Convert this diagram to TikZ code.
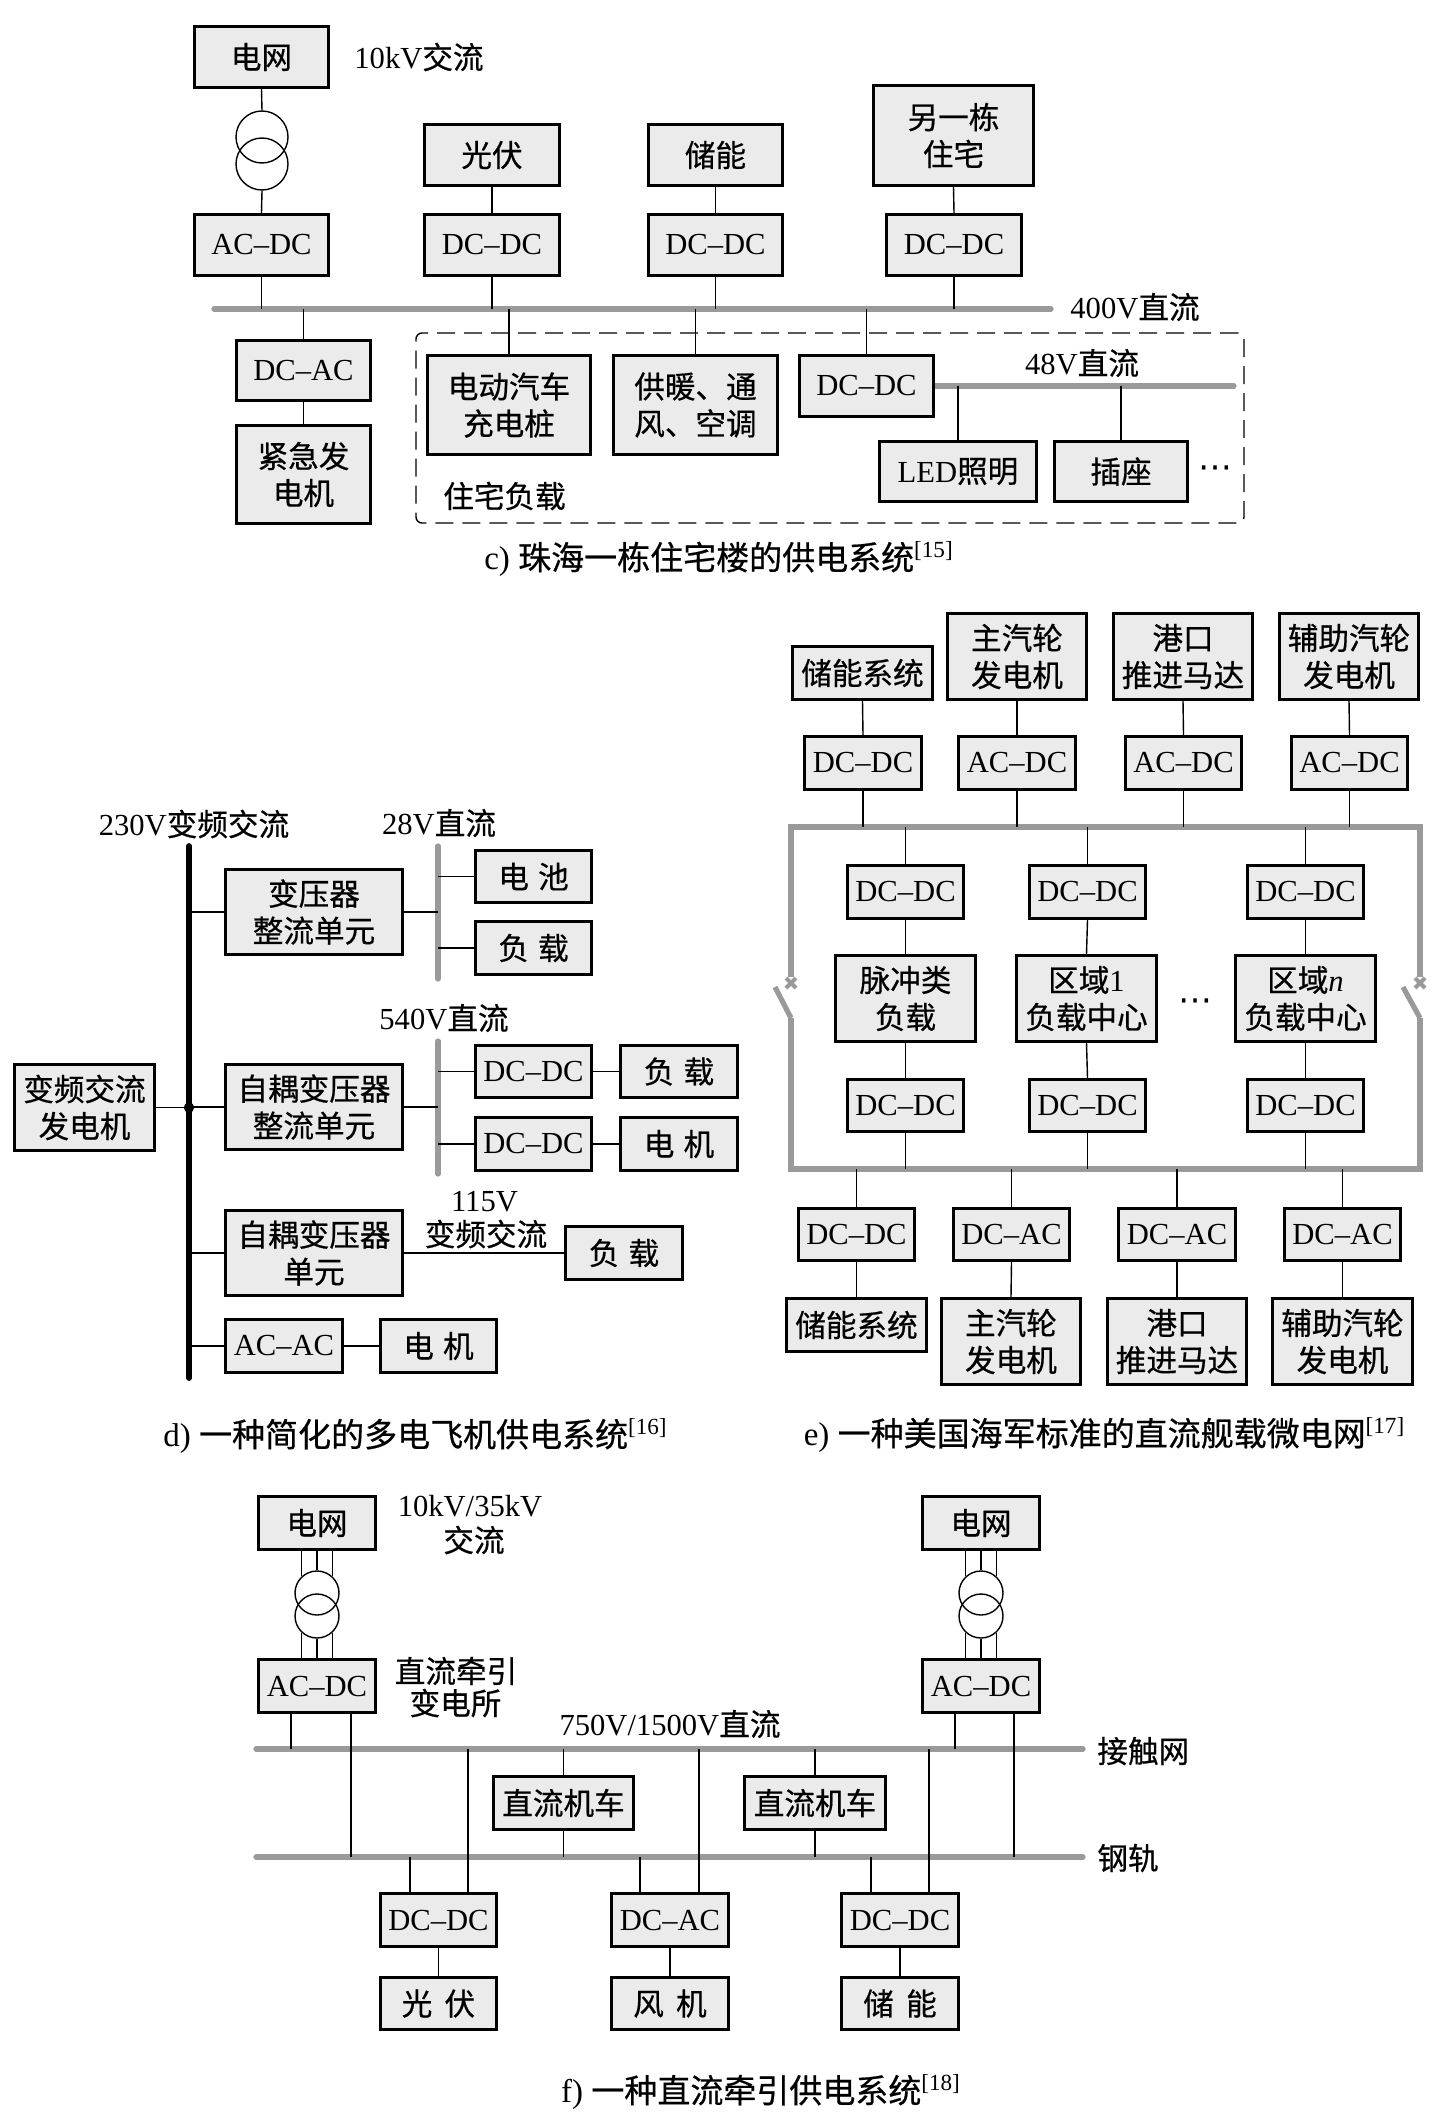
\documentclass[tikz,border=0pt]{standalone}
\usepackage{fontspec}
\setmainfont{Liberation Serif}
\newfontfamily\cjk{Noto Sans CJK SC}[FakeBold=0.6]
\newfontfamily\dejavu{DejaVu Sans}
\usetikzlibrary{calc,backgrounds}
\newcommand\zh[1]{{\cjk #1}}
\newcommand\boxfont{\fontsize{15.3pt}{18.5pt}\selectfont}
\newcommand\capfont{\fontsize{16.5pt}{20pt}\selectfont}
\newcommand\bigdots{{\dejavu\fontsize{17pt}{17pt}\selectfont ⋯}}
\definecolor{boxgray}{HTML}{EBEBEB}
\definecolor{busgray}{HTML}{9A9A9A}
\newcommand\dropto[3]{\coordinate (tmpa) at ($(#1)+(#2,0)$);\draw[wire] (tmpa) -- (tmpa |- #3);}
\begin{document}
\begin{tikzpicture}[x=0.5pt,y=-0.5pt,
  box/.style={draw=black,line width=1.7pt,fill=boxgray,inner sep=0pt,align=center,font=\boxfont},
  wh/.style 2 args={minimum width=(#1-3.4)*0.5pt,minimum height=(#2-3.4)*0.5pt},
  wire/.style={line width=0.7pt},
  bus/.style={line width=2.6pt,draw=busgray,line cap=round},
  blackbus/.style={line width=2.9pt,draw=black,line cap=round},
  lbl/.style={inner sep=0pt,align=center,font=\boxfont},
  captxt/.style={inner sep=0pt,align=center,font=\capfont},
  trc/.style={circle,draw,line width=0.7pt,inner sep=0pt},
  swx/.style={busgray,line width=2pt},
]
\useasboundingbox (0,0) rectangle (1435,2114);
% ================= c) =================
\node[box,wh={137}{64}] (grid1) at (261.5,57) {\zh{电网}};
\node[lbl,anchor=west] (lab10kv) at (354,57) {10kV\zh{交流}};
\node[trc,minimum size=26pt] (t1a) at (262,137) {};
\node[trc,minimum size=26pt] (t1b) at (262,164) {};
\node[box,wh={137}{64}] (acdc1) at (261.5,245) {AC--DC};
\node[box,wh={138}{64}] (pv1) at (492,155) {\zh{光伏}};
\node[box,wh={138}{64}] (dcdc1) at (492,245) {DC--DC};
\node[box,wh={137}{64}] (es1) at (715.5,155) {\zh{储能}};
\node[box,wh={137}{64}] (dcdc2) at (715.5,245) {DC--DC};
\node[box,wh={163}{103}] (house) at (953.5,135.5) {\zh{另一栋}\\\zh{住宅}};
\node[box,wh={138}{64}] (dcdc3) at (954,245) {DC--DC};
\node[lbl,anchor=west] (lab400) at (1070,307) {400V\zh{直流}};
\node[box,wh={137}{63}] (dcac1) at (303.5,370.5) {DC--AC};
\node[box,wh={137}{101}] (emg) at (303.5,474.5) {\zh{紧急发}\\\zh{电机}};
\node[draw,dashed,dash pattern=on 9pt off 4.5pt,line width=0.7pt,rounded corners=3pt,minimum width=414pt,minimum height=95pt,inner sep=0pt] (resframe) at (830,428) {};
\node[box,wh={166}{102}] (ev) at (509,405) {\zh{电动汽车}\\\zh{充电桩}};
\node[box,wh={167}{102}] (hvac) at (695.5,405) {\zh{供暖、通}\\\zh{风、空调}};
\node[box,wh={137}{64}] (dcdc48) at (866.5,386) {DC--DC};
\node[lbl] (lab48) at (1082,363) {48V\zh{直流}};
\node[box,wh={160}{63}] (led) at (958,471.5) {LED\zh{照明}};
\node[box,wh={136}{63}] (sock) at (1121,471.5) {\zh{插座}};
\node[lbl] (dots1) at (1215,472) {\bigdots};
\node[lbl] (labres) at (504.5,496) {\zh{住宅负载}};
\node[captxt] (capc) at (719,559) {c) \zh{珠海一栋住宅楼的供电系统}\textsuperscript{[15]}};
\coordinate (b400w) at (214,309);
\coordinate (b400e) at (1051,309);
\coordinate (b48e) at (1234,386);
% ================= d) =================
\coordinate (mbT) at (189,846);
\coordinate (mbB) at (189,1378);
\node[lbl] (lab230) at (194,824) {230V\zh{变频交流}};
\node[box,wh={143}{89}] (gen) at (84.5,1107.5) {\zh{变频交流}\\\zh{发电机}};
\node[box,wh={180}{88}] (trs) at (314,912) {\zh{变压器}\\\zh{整流单元}};
\coordinate (b28T) at (438,846);
\coordinate (b28B) at (438,979);
\node[lbl] (lab28) at (439,823) {28V\zh{直流}};
\node[box,wh={119}{55}] (bat) at (533.5,876.5) {\zh{电\hspace{0.3em}池}};
\node[box,wh={119}{56}] (ld1) at (533.5,948) {\zh{负\hspace{0.3em}载}};
\node[box,wh={180}{88}] (atru) at (314,1107) {\zh{自耦变压器}\\\zh{整流单元}};
\node[lbl] (lab540) at (444,1018) {540V\zh{直流}};
\coordinate (b540T) at (438,1041);
\coordinate (b540B) at (438,1174);
\node[box,wh={119}{55}] (dda) at (533.5,1071.5) {DC--DC};
\node[box,wh={120}{55}] (ld2) at (679,1071.5) {\zh{负\hspace{0.3em}载}};
\node[box,wh={119}{56}] (ddb) at (533.5,1144) {DC--DC};
\node[box,wh={120}{56}] (mt1) at (679,1144) {\zh{电\hspace{0.3em}机}};
\node[box,wh={180}{88}] (atu) at (314,1253) {\zh{自耦变压器}\\\zh{单元}};
\node[lbl] (lab115) at (484.5,1202) {115V};
\node[lbl] (labvf) at (486,1234) {\zh{变频交流}};
\node[box,wh={120}{56}] (ld3) at (624,1253) {\zh{负\hspace{0.3em}载}};
\node[box,wh={120}{56}] (acac) at (284,1346) {AC--AC};
\node[box,wh={119}{56}] (mt2) at (438.5,1346) {\zh{电\hspace{0.3em}机}};
\node[captxt] (capd) at (415.5,1436) {d) \zh{一种简化的多电飞机供电系统}\textsuperscript{[16]}};
% ================= e) =================
\node[box,wh={143}{56}] (es2) at (862.5,673) {\zh{储能系统}};
\node[box,wh={142}{89}] (mst) at (1017,656.5) {\zh{主汽轮}\\\zh{发电机}};
\node[box,wh={142}{89}] (port) at (1183,656.5) {\zh{港口}\\\zh{推进马达}};
\node[box,wh={142}{89}] (aux) at (1349,656.5) {\zh{辅助汽轮}\\\zh{发电机}};
\node[box,wh={120}{56}] (ec1) at (863,763) {DC--DC};
\node[box,wh={120}{56}] (ec2) at (1017,763) {AC--DC};
\node[box,wh={119}{56}] (ec3) at (1183.5,763) {AC--DC};
\node[box,wh={119}{56}] (ec4) at (1349.5,763) {AC--DC};
\node[box,wh={119}{56}] (ia1) at (905.5,892) {DC--DC};
\node[box,wh={119}{56}] (ia2) at (1087.5,892) {DC--DC};
\node[box,wh={119}{56}] (ia3) at (1305.5,892) {DC--DC};
\node[box,wh={143}{89}] (pl1) at (905.5,998.5) {\zh{脉冲类}\\\zh{负载}};
\node[box,wh={143}{89}] (pl2) at (1086.5,998.5) {\zh{区域}1\\\zh{负载中心}};
\node[box,wh={143}{89}] (pl3) at (1305.5,998.5) {\zh{区域}\textit{n}\\\zh{负载中心}};
\node[lbl] (dots2) at (1195,1005) {\bigdots};
\node[box,wh={119}{55}] (ib1) at (905.5,1105.5) {DC--DC};
\node[box,wh={119}{55}] (ib2) at (1087.5,1105.5) {DC--DC};
\node[box,wh={119}{55}] (ib3) at (1305.5,1105.5) {DC--DC};
\node[box,wh={119}{55}] (oc1) at (856.5,1234.5) {DC--DC};
\node[box,wh={119}{55}] (oc2) at (1011.5,1234.5) {DC--AC};
\node[box,wh={120}{55}] (oc3) at (1177,1234.5) {DC--AC};
\node[box,wh={119}{55}] (oc4) at (1342.5,1234.5) {DC--AC};
\node[box,wh={143}{56}] (os1) at (856.5,1325) {\zh{储能系统}};
\node[box,wh={142}{89}] (os2) at (1011,1341.5) {\zh{主汽轮}\\\zh{发电机}};
\node[box,wh={142}{89}] (os3) at (1177,1341.5) {\zh{港口}\\\zh{推进马达}};
\node[box,wh={143}{89}] (os4) at (1342.5,1341.5) {\zh{辅助汽轮}\\\zh{发电机}};
\node[captxt] (cape) at (1104.5,1435) {e) \zh{一种美国海军标准的直流舰载微电网}\textsuperscript{[17]}};
\coordinate (eTL) at (791,827);
\coordinate (eTR) at (1420,827);
\coordinate (eBL) at (791,1169);
\coordinate (eBR) at (1420,1169);
\coordinate (swL1) at (791,977);
\coordinate (swL2) at (791,1018);
\coordinate (swLb) at (775,987);
\coordinate (swLx) at (791,983);
\coordinate (swR1) at (1420,977);
\coordinate (swR2) at (1420,1018);
\coordinate (swRb) at (1403,987);
\coordinate (swRx) at (1420,983);
% ================= f) =================
\node[box,wh={120}{56}] (gridL) at (317,1523) {\zh{电网}};
\node[box,wh={120}{56}] (acdcL) at (317,1686) {AC--DC};
\node[trc,minimum size=22pt] (tLa) at (317,1593) {};
\node[trc,minimum size=22pt] (tLb) at (317,1616) {};
\node[lbl] (lab35) at (470,1506) {10kV/35kV};
\node[lbl] (labac) at (474,1540) {\zh{交流}};
\node[lbl] (labsub1) at (456,1671) {\zh{直流牵引}};
\node[lbl] (labsub2) at (455.5,1703) {\zh{变电所}};
\node[box,wh={120}{56}] (gridR) at (981,1523) {\zh{电网}};
\node[box,wh={120}{56}] (acdcR) at (981,1686) {AC--DC};
\node[trc,minimum size=22pt] (tRa) at (981,1593) {};
\node[trc,minimum size=22pt] (tRb) at (981,1616) {};
\node[lbl] (lab750) at (670,1724) {750V/1500V\zh{直流}};
\node[lbl,anchor=west] (labcat) at (1097,1751) {\zh{接触网}};
\node[lbl,anchor=west] (labrail) at (1097,1858) {\zh{钢轨}};
\node[box,wh={143}{56}] (loco1) at (563.5,1803) {\zh{直流机车}};
\node[box,wh={144}{56}] (loco2) at (815,1803) {\zh{直流机车}};
\node[box,wh={119}{56}] (fc1) at (438.5,1920) {DC--DC};
\node[box,wh={119}{55}] (fs1) at (438.5,2003.5) {\zh{光\hspace{0.4em}伏}};
\node[box,wh={120}{56}] (fc2) at (670,1920) {DC--AC};
\node[box,wh={120}{55}] (fs2) at (670,2003.5) {\zh{风\hspace{0.4em}机}};
\node[box,wh={120}{56}] (fc3) at (900,1920) {DC--DC};
\node[box,wh={120}{55}] (fs3) at (900,2003.5) {\zh{储\hspace{0.4em}能}};
\node[captxt] (capf) at (761,2092) {f) \zh{一种直流牵引供电系统}\textsuperscript{[18]}};
\coordinate (fTw) at (256,1749);
\coordinate (fTe) at (1083,1749);
\coordinate (fBw) at (256,1857);
\coordinate (fBe) at (1083,1857);
% ================= lines (background) =================
\begin{scope}[on background layer]
\fill[white] (0,0) rectangle (1435,2114);
% c)
\draw[wire] (grid1.south) -- (t1a.north);
\draw[wire] (t1b.south) -- (acdc1.north);
\draw[bus] (b400w) -- (b400e);
\draw[wire] (acdc1.south) -- (acdc1.south |- b400w);
\draw[wire] (pv1.south) -- (dcdc1.north);
\draw[wire] (dcdc1.south) -- (dcdc1.south |- b400w);
\draw[wire] (es1.south) -- (dcdc2.north);
\draw[wire] (dcdc2.south) -- (dcdc2.south |- b400w);
\draw[wire] (house.south) -- (dcdc3.north);
\draw[wire] (dcdc3.south) -- (dcdc3.south |- b400w);
\draw[wire] (dcac1.north |- b400w) -- (dcac1.north);
\draw[wire] (dcac1.south) -- (emg.north);
\draw[wire] (ev.north |- b400w) -- (ev.north);
\draw[wire] (hvac.north |- b400w) -- (hvac.north);
\draw[wire] (dcdc48.north |- b400w) -- (dcdc48.north);
\draw[bus] (dcdc48.east) -- (b48e);
\draw[wire] (led.north |- b48e) -- (led.north);
\draw[wire] (sock.north |- b48e) -- (sock.north);
% d)
\draw[blackbus] (mbT) -- (mbB);
\draw[wire] (gen.east) -- (gen.east -| mbT);
\fill (gen.east -| mbT) circle (2.6pt);
\draw[wire] (trs.west) -- (trs.west -| mbT);
\draw[wire] (atru.west) -- (atru.west -| mbT);
\draw[wire] (atu.west) -- (atu.west -| mbT);
\draw[wire] (acac.west) -- (acac.west -| mbT);
\draw[bus] (b28T) -- (b28B);
\draw[wire] (trs.east) -- (trs.east -| b28T);
\draw[wire] (bat.west) -- (bat.west -| b28T);
\draw[wire] (ld1.west) -- (ld1.west -| b28T);
\draw[bus] (b540T) -- (b540B);
\draw[wire] (atru.east) -- (atru.east -| b540T);
\draw[wire] (dda.west) -- (dda.west -| b540T);
\draw[wire] (ddb.west) -- (ddb.west -| b540T);
\draw[wire] (dda.east) -- (ld2.west);
\draw[wire] (ddb.east) -- (mt1.west);
\draw[wire] (atu.east) -- (ld3.west);
\draw[wire] (acac.east) -- (mt2.west);
% e)
\draw[bus,line cap=butt,line join=miter] (swL1) -- (eTL) -- (eTR) -- (swR1);
\draw[bus,line cap=butt,line join=miter] (swL2) -- (eBL) -- (eBR) -- (swR2);
\draw[bus,line cap=butt] (swLb) -- (swL2);
\draw[bus,line cap=butt] (swRb) -- (swR2);
\draw[swx] ($(swLx)+(-5,-5)$) -- ($(swLx)+(5,5)$);
\draw[swx] ($(swLx)+(-5,5)$) -- ($(swLx)+(5,-5)$);
\draw[swx] ($(swRx)+(-5,-5)$) -- ($(swRx)+(5,5)$);
\draw[swx] ($(swRx)+(-5,5)$) -- ($(swRx)+(5,-5)$);
\foreach \s/\c in {es2/ec1,mst/ec2,port/ec3,aux/ec4}{
  \draw[wire] (\s.south) -- (\c.north);
  \draw[wire] (\c.south) -- (\c.south |- eTL);
}
\foreach \a/\p/\b in {ia1/pl1/ib1,ia2/pl2/ib2,ia3/pl3/ib3}{
  \draw[wire] (\a.north |- eTL) -- (\a.north);
  \draw[wire] (\a.south) -- (\p.north);
  \draw[wire] (\p.south) -- (\b.north);
  \draw[wire] (\b.south) -- (\b.south |- eBL);
}
\foreach \c/\s in {oc1/os1,oc2/os2,oc3/os3,oc4/os4}{
  \draw[wire] (\c.north |- eBL) -- (\c.north);
  \draw[wire] (\c.south) -- (\s.north);
}
% f)
\draw[bus] (fTw) -- (fTe);
\draw[bus] (fBw) -- (fBe);
\foreach \g/\ta/\tb/\ac in {gridL/tLa/tLb/acdcL,gridR/tRa/tRb/acdcR}{
  \draw[wire] (\g.south) -- (\ta.north);
  \draw[wire] (\ta.133) -- (\ta.133 |- \g.south);
  \draw[wire] (\ta.47) -- (\ta.47 |- \g.south);
  \draw[wire] (\tb.south) -- (\ac.north);
  \draw[wire] (\tb.227) -- (\tb.227 |- \ac.north);
  \draw[wire] (\tb.313) -- (\tb.313 |- \ac.north);
}
\dropto{acdcL.south}{-26}{fTw}
\dropto{acdcL.south}{34}{fBw}
\dropto{acdcR.south}{-26}{fTw}
\dropto{acdcR.south}{33}{fBw}
\draw[wire] (loco1.north |- fTw) -- (loco1.north);
\draw[wire] (loco1.south) -- (loco1.south |- fBw);
\draw[wire] (loco2.north |- fTw) -- (loco2.north);
\draw[wire] (loco2.south) -- (loco2.south |- fBw);
\dropto{fc1.north}{-28.5}{fBw}
\dropto{fc1.north}{29.5}{fTw}
\dropto{fc2.north}{-30}{fBw}
\dropto{fc2.north}{29}{fTw}
\dropto{fc3.north}{-29}{fBw}
\dropto{fc3.north}{29}{fTw}
\draw[wire] (fc1.south) -- (fs1.north);
\draw[wire] (fc2.south) -- (fs2.north);
\draw[wire] (fc3.south) -- (fs3.north);
\end{scope}
\end{tikzpicture}
\end{document}
